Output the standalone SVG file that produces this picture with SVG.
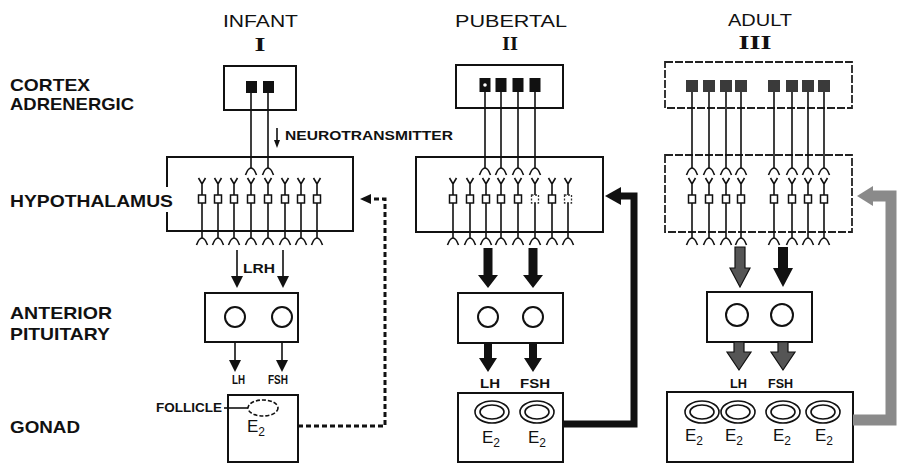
<svg xmlns="http://www.w3.org/2000/svg" width="897" height="464" viewBox="0 0 897 464">
<style>
.lbl{font-family:"Liberation Sans",Arial,sans-serif;font-weight:bold;font-size:17px;fill:#111}
.ttl{font-family:"Liberation Sans",Arial,sans-serif;font-size:17px;fill:#111}
.num{font-family:"Liberation Serif","Times New Roman",serif;font-weight:bold;font-size:18px;fill:#111}
.sm{font-family:"Liberation Sans",Arial,sans-serif;font-weight:bold;font-size:12px;fill:#111}
.e2{font-family:"Liberation Sans",Arial,sans-serif;font-size:17px;fill:#111}
.sub{font-size:12px}
.box{fill:none;stroke:#111;stroke-width:2}
.fbox{fill:none;stroke:#222;stroke-width:1.8;stroke-dasharray:8 2}
.ln{fill:none;stroke:#111;stroke-width:1.6}
.sq{fill:#fff;stroke:#111;stroke-width:1.5}
.sqf{fill:#fff;stroke:#333;stroke-width:1.3;stroke-dasharray:2 1.5}
.cell{fill:none;stroke:#111;stroke-width:2}
.fol{fill:none;stroke:#111;stroke-width:1.6}
.dk{fill:#111}
.gr{fill:#555;stroke:#111;stroke-width:1.2}
</style>
<defs>
<g id="neuron">
<path class="ln" d="M-3.5,178 L0,184 L3.5,178 M0,184 V195 M0,203 V238 M-5.5,245 Q-3,238 0,238 Q3,238 5.5,245"/>
<rect class="sq" x="-3.5" y="195" width="7" height="8"/>
</g>
<g id="neuronF">
<path class="ln" d="M-3.5,178 L0,184 L3.5,178 M0,184 V195 M0,203 V238 M-5.5,245 Q-3,238 0,238 Q3,238 5.5,245"/>
<rect class="sqf" x="-3.5" y="195" width="7" height="8"/>
</g>
<path id="term" class="ln" d="M-5.5,175 Q-3,168 0,168 Q3,168 5.5,175"/>
<g id="fol2">
<ellipse class="fol" rx="17" ry="11"/>
<ellipse class="fol" rx="12" ry="7"/>
</g>
</defs>

<g id="labels">
<text class="lbl" x="10" y="91" font-size="16" textLength="80" lengthAdjust="spacingAndGlyphs">CORTEX</text>
<text class="lbl" x="10" y="110" font-size="16" textLength="124" lengthAdjust="spacingAndGlyphs">ADRENERGIC</text>
<text class="lbl" x="10" y="207" textLength="163" lengthAdjust="spacingAndGlyphs">HYPOTHALAMUS</text>
<text class="lbl" x="10" y="319" textLength="102" lengthAdjust="spacingAndGlyphs">ANTERIOR</text>
<text class="lbl" x="10" y="340" textLength="100" lengthAdjust="spacingAndGlyphs">PITUITARY</text>
<text class="lbl" x="10" y="433" textLength="70" lengthAdjust="spacingAndGlyphs">GONAD</text>
<text class="ttl" x="223" y="27" textLength="75" lengthAdjust="spacingAndGlyphs">INFANT</text>
<text class="num" x="260" y="51" text-anchor="middle" textLength="11" lengthAdjust="spacingAndGlyphs">I</text>
<text class="ttl" x="455" y="27" textLength="112" lengthAdjust="spacingAndGlyphs">PUBERTAL</text>
<text class="num" x="510" y="50" text-anchor="middle" textLength="16" lengthAdjust="spacingAndGlyphs">II</text>
<text class="ttl" x="728" y="26" textLength="64" lengthAdjust="spacingAndGlyphs">ADULT</text>
<text class="num" x="755" y="49" text-anchor="middle" textLength="33" lengthAdjust="spacingAndGlyphs">III</text>
</g>

<!-- Column I -->
<g id="cortex1">
<rect class="box" x="224" y="66" width="72" height="44"/>
<rect class="dk" x="246" y="81" width="11" height="12"/>
<rect class="dk" x="263" y="81" width="11" height="12"/>
</g>
<g id="hypo1">
<path class="box" d="M167,187 V157 H353 V231 H167 V212"/>
<use href="#neuron" x="202"/><use href="#neuron" x="218"/><use href="#neuron" x="234"/><use href="#neuron" x="251"/>
<use href="#neuron" x="268"/><use href="#neuron" x="285"/><use href="#neuron" x="301"/><use href="#neuron" x="317"/>
</g>
<g id="pit1">
<rect class="box" x="205" y="293" width="93" height="49"/>
<circle class="cell" cx="235" cy="317" r="10"/>
<circle class="cell" cx="282" cy="317" r="10"/>
</g>
<g id="gonad1">
<rect class="box" x="228" y="395" width="70" height="67"/>
<ellipse class="fol" cx="263" cy="408" rx="15" ry="8" stroke-dasharray="4 2"/>
<text class="e2" x="247" y="432" font-size="16">E<tspan class="sub" dy="4">2</tspan></text>
</g>
<text class="sm" x="156" y="412" font-size="11" textLength="66" lengthAdjust="spacingAndGlyphs">FOLLICLE</text>
<text class="sm" x="285" y="140" font-size="13" textLength="168" lengthAdjust="spacingAndGlyphs">NEUROTRANSMITTER</text>
<text class="sm" x="243" y="273" font-size="13" textLength="32" lengthAdjust="spacingAndGlyphs">LRH</text>
<text class="sm" x="232" y="384" font-size="10" textLength="13" lengthAdjust="spacingAndGlyphs">LH</text>
<text class="sm" x="268" y="384" font-size="10" textLength="20" lengthAdjust="spacingAndGlyphs">FSH</text>

<!-- Column II -->
<g id="cortex2">
<rect class="box" x="456" y="65" width="107" height="43"/>
<rect class="dk" x="479.5" y="78" width="11" height="14"/>
<circle cx="485" cy="85" r="1.8" fill="#fff"/>
<rect class="dk" x="495.5" y="78" width="11" height="14"/>
<rect class="dk" x="512.5" y="78" width="11" height="14"/>
<rect class="dk" x="529.5" y="78" width="11" height="14"/>
</g>
<g id="hypo2">
<rect class="box" x="416" y="157" width="187" height="75"/>
<use href="#neuron" x="453"/><use href="#neuron" x="470"/><use href="#neuron" x="486"/><use href="#neuron" x="501"/>
<use href="#neuron" x="518"/><use href="#neuronF" x="535"/><use href="#neuron" x="552"/><use href="#neuronF" x="568"/>
</g>
<g id="pit2">
<rect class="box" x="458" y="293" width="105" height="50"/>
<circle class="cell" cx="488" cy="317" r="10"/>
<circle class="cell" cx="533" cy="317" r="10"/>
</g>
<g id="gonad2">
<rect class="box" x="458" y="393" width="105" height="69"/>
<use href="#fol2" x="492" y="412"/>
<use href="#fol2" x="537" y="412"/>
<text class="e2" x="482" y="443">E<tspan class="sub" dy="4">2</tspan></text>
<text class="e2" x="528" y="443">E<tspan class="sub" dy="4">2</tspan></text>
</g>
<text class="sm" x="480" y="388" textLength="20" lengthAdjust="spacingAndGlyphs">LH</text>
<text class="sm" x="520" y="388" textLength="30" lengthAdjust="spacingAndGlyphs">FSH</text>

<!-- Column III -->
<g id="cortex3">
<rect class="fbox" x="665" y="62" width="187" height="46"/>
<rect fill="#3a3a3a" x="686" y="80" width="12" height="12"/>
<rect fill="#3a3a3a" x="703" y="80" width="12" height="12"/>
<rect fill="#3a3a3a" x="720" y="80" width="12" height="12"/>
<rect fill="#3a3a3a" x="735" y="80" width="12" height="12"/>
<rect fill="#3a3a3a" x="768" y="80" width="12" height="12"/>
<rect fill="#3a3a3a" x="786" y="80" width="12" height="12"/>
<rect fill="#3a3a3a" x="802" y="80" width="12" height="12"/>
<rect fill="#3a3a3a" x="818" y="80" width="12" height="12"/>
</g>
<g id="hypo3">
<rect class="fbox" x="665" y="155" width="187" height="77"/>
<use href="#neuron" x="692"/><use href="#neuron" x="709"/><use href="#neuron" x="726"/><use href="#neuron" x="741"/>
<use href="#neuron" x="774"/><use href="#neuron" x="792"/><use href="#neuron" x="808"/><use href="#neuron" x="824"/>
</g>
<g id="pit3">
<rect class="box" x="707" y="292" width="105" height="50"/>
<circle class="cell" cx="737" cy="315" r="11"/>
<circle class="cell" cx="782" cy="315" r="11"/>
</g>
<g id="gonad3">
<rect class="box" x="667" y="392" width="186" height="70"/>
<use href="#fol2" x="702" y="412"/>
<use href="#fol2" x="738" y="412"/>
<use href="#fol2" x="783" y="412"/>
<use href="#fol2" x="823" y="412"/>
<text class="e2" x="685" y="441">E<tspan class="sub" dy="4">2</tspan></text>
<text class="e2" x="725" y="441">E<tspan class="sub" dy="4">2</tspan></text>
<text class="e2" x="773" y="441">E<tspan class="sub" dy="4">2</tspan></text>
<text class="e2" x="815" y="441">E<tspan class="sub" dy="4">2</tspan></text>
</g>
<text class="sm" x="730" y="388" font-size="11" textLength="17" lengthAdjust="spacingAndGlyphs">LH</text>
<text class="sm" x="768" y="388" font-size="11" textLength="25" lengthAdjust="spacingAndGlyphs">FSH</text>

<g id="connectors">
<!-- cortex axons col I -->
<path class="ln" d="M251,93 V168 M268,93 V168"/>
<use href="#term" x="251"/><use href="#term" x="268"/>
<path class="ln" d="M277,128 V142"/>
<polygon class="dk" points="274,140 280,140 277,148"/>
<!-- cortex axons col II -->
<path class="ln" d="M485,92 V168 M501,92 V168 M518,92 V168 M535,92 V168"/>
<use href="#term" x="485"/><use href="#term" x="501"/><use href="#term" x="518"/><use href="#term" x="535"/>
<!-- cortex axons col III -->
<path class="ln" d="M692,92 V168 M709,92 V168 M726,92 V168 M741,92 V168 M774,92 V168 M792,92 V168 M808,92 V168 M824,92 V168"/>
<use href="#term" x="692"/><use href="#term" x="709"/><use href="#term" x="726"/><use href="#term" x="741"/>
<use href="#term" x="774"/><use href="#term" x="792"/><use href="#term" x="808"/><use href="#term" x="824"/>

<!-- col I thin arrows -->
<path class="ln" d="M237,250 V278 M283,250 V278 M235,342 V361 M282,342 V361" stroke-width="2"/>
<polygon class="dk" points="231,276 243,276 237,288"/>
<polygon class="dk" points="277,276 289,276 283,288"/>
<polygon class="dk" points="229,360 241,360 235,372"/>
<polygon class="dk" points="276,360 288,360 282,372"/>
<!-- follicle pointer -->
<path class="ln" d="M224,408 H248"/>
<!-- col I dashed feedback -->
<path fill="none" stroke="#111" stroke-width="3" stroke-dasharray="5 3" d="M298,426 H385 V199 H371"/>
<polygon class="dk" points="360,199 371,194 371,204"/>

<!-- col II thick arrows -->
<polygon class="dk" points="483.5,248 492.5,248 492.5,275 498,275 488,288 478,275 483.5,275"/>
<polygon class="dk" points="528.5,248 537.5,248 537.5,275 543,275 533,288 523,275 528.5,275"/>
<polygon class="dk" points="484,343 492,343 492,358 497,358 488,372 479,358 484,358"/>
<polygon class="dk" points="529,343 537,343 537,358 542,358 533,372 524,358 529,358"/>
<!-- col II feedback -->
<path fill="none" stroke="#111" stroke-width="7" d="M563,424 H634 V196 H619"/>
<polygon class="dk" points="605,196 621,187 621,205"/>

<!-- col III arrows -->
<polygon class="gr" points="735,247 745,247 745,268 750,268 740,287 730,268 735,268"/>
<polygon class="dk" points="778,247 788,247 788,268 793,268 783,287 773,268 778,268"/>
<polygon class="gr" points="734,342 744,342 744,352 751,352 739,370 727,352 734,352"/>
<polygon class="gr" points="778,342 788,342 788,352 795,352 783,370 771,352 778,352"/>
<!-- col III gray feedback -->
<path fill="none" stroke="#8a8a8a" stroke-width="11" d="M853,420 H891 V196 H872"/>
<polygon fill="#8a8a8a" points="857,196 873,186 873,206"/>
</g>
</svg>
